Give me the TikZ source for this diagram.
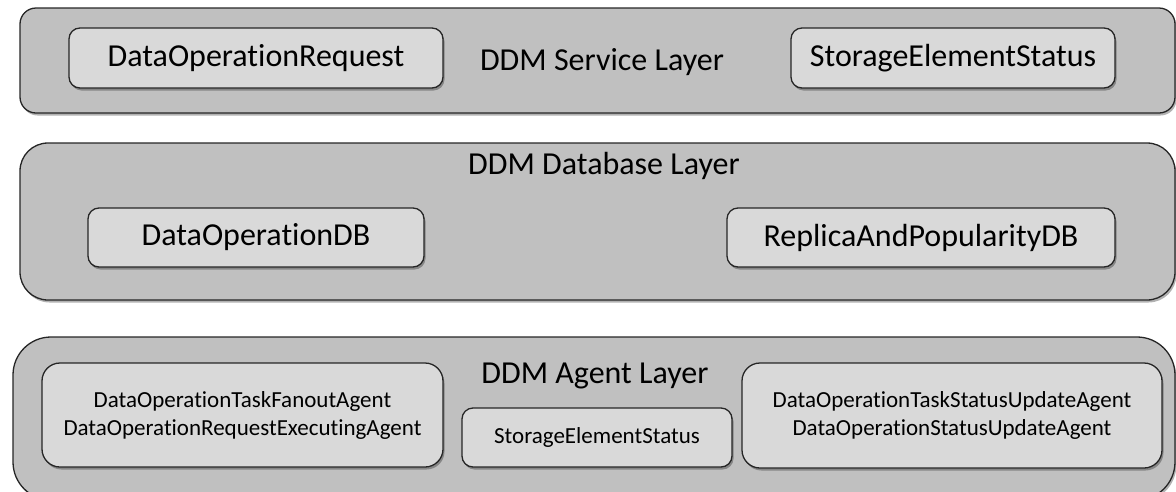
\documentclass[tikz,border=0pt]{standalone}
\usepackage{fontspec}
\setmainfont{Carlito}[RawFeature={-liga;-clig;-calt}]
\usetikzlibrary{shadows}
\definecolor{layerfill}{RGB}{192,192,192}
\definecolor{itemfill}{RGB}{217,217,217}
\tikzset{
	boxshadow/.style={drop shadow={shadow xshift=1.5pt,shadow yshift=-2.5pt,opacity=.3,fill=black}},
	layerbox/.style={draw=black!85,line width=1.3pt,fill=layerfill,rounded corners=#1,inner sep=0pt,boxshadow},
	itembox/.style={draw=black!85,line width=1.3pt,fill=itemfill,rounded corners=#1,inner sep=0pt,align=center,
		font=\fontsize{32}{38}\selectfont,boxshadow},
	agentbox/.style={itembox=#1,font=\fontsize{23}{28}\selectfont},
	layertitle/.style={font=\fontsize{32}{38}\selectfont,inner sep=0pt}
}
\begin{document}
\begin{tikzpicture}[x=1pt,y=-1pt]
	\path[use as bounding box] (0,0) rectangle (1176,491);
	\clip (0,0) rectangle (1176,491);

	% service layer
	\node[layerbox=16pt,minimum width=1155pt,minimum height=105pt] (service) at (597.5,60.5) {};
	\node[itembox=11pt,minimum width=374pt,minimum height=60pt] (request) at (256,58) {DataOperationRequest};
	\node[itembox=11pt,minimum width=324pt,minimum height=60pt] (sestatus) at (953,58) {StorageElementStatus};
	\node[layertitle] (servicetitle) at (602,62) {DDM Service Layer};

	% database layer
	\node[layerbox=28pt,minimum width=1155pt,minimum height=157pt] (database) at (597.5,221.5) {};
	\node[layertitle] (databasetitle) at (604,166) {DDM Database Layer};
	\node[itembox=11pt,minimum width=336pt,minimum height=59pt] (opdb) at (256,237.5) {DataOperationDB};
	\node[itembox=11pt,minimum width=388pt,minimum height=59pt] (replicadb) at (921,237.5) {ReplicaAndPopularityDB};

	% agent layer
	\node[layerbox=38pt,minimum width=1162pt,minimum height=163pt] (agent) at (594,418.5) {};
	\node[layertitle] (agenttitle) at (595,376) {DDM Agent Layer};
	\node[agentbox=18pt,minimum width=401pt,minimum height=104pt] (fanout) at (242.5,415)
		{DataOperationTaskFanoutAgent\\DataOperationRequestExecutingAgent};
	\node[agentbox=11pt,minimum width=270pt,minimum height=59pt] (seagent) at (597,437.5) {StorageElementStatus};
	\node[agentbox=18pt,minimum width=420pt,minimum height=105pt] (update) at (952,415.5)
		{DataOperationTaskStatusUpdateAgent\\DataOperationStatusUpdateAgent};
\end{tikzpicture}
\end{document}
